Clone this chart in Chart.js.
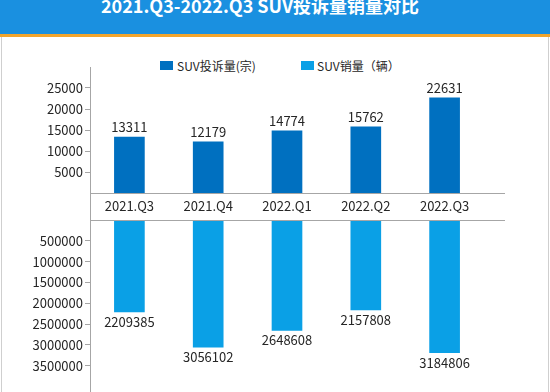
<!DOCTYPE html>
<html>
<head>
<meta charset="utf-8">
<script src="https://cdn.jsdelivr.net/npm/chart.js@4.4.0/dist/chart.umd.min.js"></script>
<style>
  body { margin: 0; width: 550px; height: 392px; overflow: hidden; background: #fff; position: relative;
         font-family: "Noto Sans CJK SC", sans-serif; }
  #title { position: absolute; left: 0; top: 0; width: 550px; height: 34px; background: #1a90e0;
           border-bottom: 3px solid #f3a52c; overflow: hidden; }
  #title div { position: absolute; left: -15px; width: 550px; top: -7px; text-align: center; color: #fff;
               font-weight: bold; font-size: 18px; line-height: 24px; }
  #frame { position: absolute; left: 1px; top: 37px; width: 546px; height: 360px;
           border-left: 1px solid #cfcfcf; border-right: 1px solid #cfcfcf; }
  .box { position: absolute; top: 61px; width: 13px; height: 9px; }
  .lab { position: absolute; top: 57px; font-size: 12px; line-height: 18px; color: #262626; white-space: nowrap; }
  canvas { position: absolute; left: 0; }
</style>
</head>
<body>
<div id="title"><div>2021.Q3-2022.Q3 SUV投诉量销量对比</div></div>
<div id="frame"></div>
<div class="box" style="left:160px;background:#0070c0"></div>
<div class="lab" style="left:177px">SUV投诉量(宗)</div>
<div class="box" style="left:301px;background:#0aa0e6"></div>
<div class="lab" style="left:317px">SUV销量（辆）</div>
<canvas id="top" width="550" height="153" style="top:62px"></canvas>
<canvas id="bottom" width="550" height="177" style="top:215px"></canvas>
<script>
const quarters = ['2021.Q3', '2021.Q4', '2022.Q1', '2022.Q2', '2022.Q3'];
const complaints = [13311, 12179, 14774, 15762, 22631];
const sales = [2209385, 3056102, 2648608, 2157808, 3184806];
const complaintTicks = [5000, 10000, 15000, 20000, 25000];
const salesTicks = [500000, 1000000, 1500000, 2000000, 2500000, 3000000, 3500000];

const fam = '"Noto Sans CJK SC", sans-serif';
const txt = '#262626';
const lineCol = '#a6a6a6';

// axis lines and value labels
function decor(isTop) {
  return {
    id: 'decor',
    afterDraw(chart) {
      const ctx = chart.ctx, a = chart.chartArea;
      ctx.save();
      ctx.strokeStyle = lineCol;
      ctx.lineWidth = 1;
      ctx.beginPath();
      const x = Math.round(a.left) + 0.5;
      ctx.moveTo(x, isTop ? a.top : 0);
      ctx.lineTo(x, chart.height);
      const y = Math.round(isTop ? a.bottom : a.top) + 0.5;
      ctx.moveTo(a.left, y);
      ctx.lineTo(a.right + 21, y);
      ctx.stroke();

      ctx.fillStyle = txt;
      ctx.font = '13px ' + fam;
      ctx.textAlign = 'center';
      ctx.textBaseline = 'middle';
      const ds = chart.data.datasets[0].data;
      chart.getDatasetMeta(0).data.forEach((el, i) => {
        ctx.fillText(String(ds[i]), el.x, isTop ? el.y - 10 : el.y + 10);
      });
      ctx.restore();
    }
  };
}

function yScale(max, ticks, reverse) {
  return {
    min: 0, max: max, reverse: reverse,
    afterBuildTicks(s) { s.ticks = ticks.map(v => ({ value: v })); },
    afterFit(s) { s.width = 90; s.paddingTop = 0; s.paddingBottom = 0; },
    border: { display: false },
    grid: { drawOnChartArea: false, tickLength: 5, color: lineCol },
    ticks: { padding: 2, color: txt, font: { size: 13, family: fam }, callback: v => String(v) }
  };
}

new Chart(document.getElementById('top'), {
  type: 'bar',
  data: {
    labels: quarters,
    datasets: [{ label: 'SUV投诉量(宗)', data: complaints, backgroundColor: '#0070c0', barThickness: 30 }]
  },
  options: {
    responsive: false, animation: false,
    layout: { padding: { top: 5, right: 66, left: 0, bottom: 0 } },
    plugins: { legend: { display: false }, tooltip: { enabled: false } },
    scales: {
      x: {
        grid: { display: false, drawTicks: false }, border: { display: false },
        afterFit(s) { s.height = 22; s.paddingLeft = 0; s.paddingRight = 0; },
        ticks: { padding: 5, color: txt, font: { size: 13, family: fam } }
      },
      y: yScale(30000, complaintTicks, false)
    }
  },
  plugins: [decor(true)]
});

new Chart(document.getElementById('bottom'), {
  type: 'bar',
  data: {
    labels: quarters,
    datasets: [{ label: 'SUV销量（辆）', data: sales, backgroundColor: '#0aa0e6', barThickness: 30 }]
  },
  options: {
    responsive: false, animation: false,
    layout: { padding: { top: 5, right: 66, left: 0, bottom: 0 } },
    plugins: { legend: { display: false }, tooltip: { enabled: false } },
    scales: {
      x: { display: false },
      y: yScale(4130000, salesTicks, true)
    }
  },
  plugins: [decor(false)]
});
</script>
</body>
</html>
